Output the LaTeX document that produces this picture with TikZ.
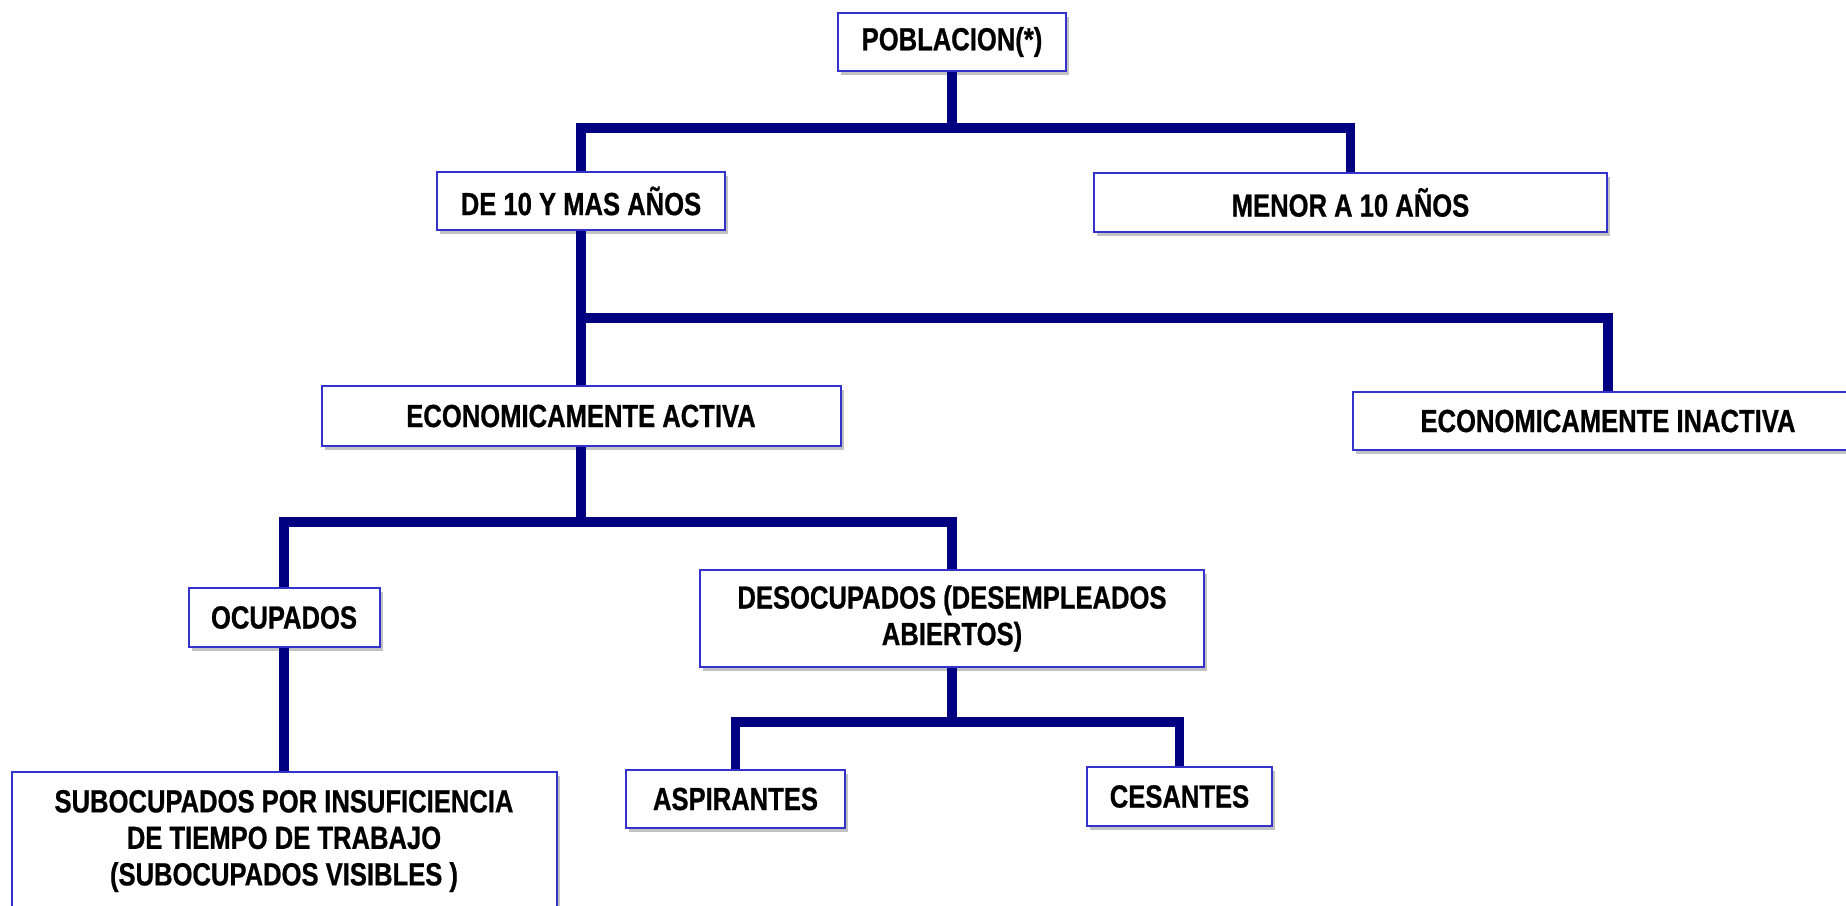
\documentclass[tikz,border=0pt]{standalone}
\usepackage{fontspec}
\setmainfont{Liberation Sans}[FakeStretch=0.8, BoldFeatures={FakeBold=0.7}]
\usetikzlibrary{shadows}
\definecolor{linenavy}{RGB}{0,0,128}
\definecolor{boxblue}{RGB}{51,51,204}
\begin{document}
\begin{tikzpicture}[x=0.5pt,y=-0.5pt,
  box/.style={draw=boxblue, line width=1pt, fill=white, inner sep=0pt,
    align=center, font=\fontsize{16}{18.25}\selectfont\bfseries,
    drop shadow={shadow xshift=1.6pt, shadow yshift=-1.8pt, opacity=0.4, fill=black!60}},
  conn/.style={draw=linenavy, line width=4.7pt, line join=miter}]
\useasboundingbox (0,0) rectangle (1846,905);
% nodes
\node[box, minimum width=114pt, minimum height=29pt] (pob) at (952,42) {POBLACION(*)};
\node[box, minimum width=144pt, minimum height=29pt] (de10) at (581,201) {DE 10 Y MAS AÑOS};
\node[box, minimum width=256.5pt, minimum height=29.5pt] (menor) at (1350.5,202.5) {MENOR A 10 AÑOS};
\node[box, minimum width=259.5pt, minimum height=30pt] (act) at (581,416) {ECONOMICAMENTE ACTIVA};
\node[box, minimum width=255pt, minimum height=29pt] (inact) at (1608,421) {ECONOMICAMENTE INACTIVA};
\node[box, minimum width=95.5pt, minimum height=29.5pt] (ocup) at (284,617.5) {OCUPADOS};
\node[box, minimum width=252pt, minimum height=48.5pt] (desoc) at (952,618.5) {DESOCUPADOS (DESEMPLEADOS\\ABIERTOS)};
\node[box, minimum width=272.5pt, minimum height=69pt] (suboc) at (284,841) {SUBOCUPADOS POR INSUFICIENCIA\\DE TIEMPO DE TRABAJO\\(SUBOCUPADOS VISIBLES )};
\node[box, minimum width=109.5pt, minimum height=29pt] (asp) at (735.5,799) {ASPIRANTES};
\node[box, minimum width=92.5pt, minimum height=29.5pt] (ces) at (1179.5,796.5) {CESANTES};
% junctions
\coordinate (j1) at (952,128);
\coordinate (j2) at (581,318);
\coordinate (j3) at (581,522);
\coordinate (j4) at (952,722);
% connectors
\draw[conn] (pob.south) -- (pob.south |- j1);
\draw[conn] (de10.north) |- (j1) -| (menor.north);
\draw[conn] (de10.south) -- (act.north);
\draw[conn] (j2) -| (inact.north);
\draw[conn] (act.south) -- (act.south |- j3);
\draw[conn] (ocup.north) |- (j3) -| (desoc.north);
\draw[conn] (ocup.south) -- (suboc.north);
\draw[conn] (desoc.south) -- (desoc.south |- j4);
\draw[conn] (asp.north) |- (j4) -| (ces.north);
\end{tikzpicture}
\end{document}
